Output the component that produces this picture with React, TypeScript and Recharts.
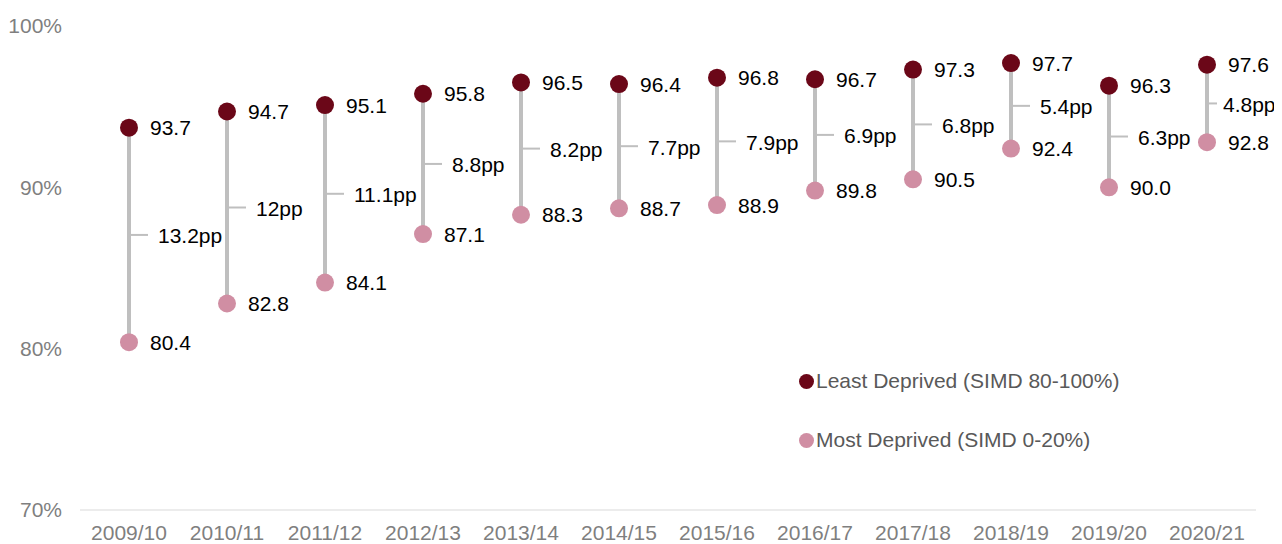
import React from 'react';
import {
  ComposedChart, Bar, Line, XAxis, YAxis, LabelList,
} from 'recharts';

const years = [
  '2009/10', '2010/11', '2011/12', '2012/13', '2013/14', '2014/15',
  '2015/16', '2016/17', '2017/18', '2018/19', '2019/20', '2020/21',
];
const leastDeprived = [93.7, 94.7, 95.1, 95.8, 96.5, 96.4, 96.8, 96.7, 97.3, 97.7, 96.3, 97.6];
const mostDeprived = [80.4, 82.8, 84.1, 87.1, 88.3, 88.7, 88.9, 89.8, 90.5, 92.4, 90.0, 92.8];
const gapLabels = ['13.2pp', '12pp', '11.1pp', '8.8pp', '8.2pp', '7.7pp', '7.9pp', '6.9pp', '6.8pp', '5.4pp', '6.3pp', '4.8pp'];
const yTicks = [70, 80, 90, 100];

const DARK = '#6b0718';
const PINK = '#d08ea3';
const GREY = '#bfbfbf';
const FONT = '"Liberation Sans", Arial, sans-serif';

const data = years.map((year, i) => ({
  year,
  least: leastDeprived[i],
  most: mostDeprived[i],
  gap: gapLabels[i],
}));

const ValueLabel = (props: any) => {
  const { x, y, value } = props;
  return (
    <text x={x + 21} y={y} dominantBaseline="central" fontSize={21} fontFamily={FONT} fill="#000">
      {Number(value).toFixed(1)}
    </text>
  );
};

const GapLabel = (props: any) => {
  const { x, y, width, height, value, index } = props;
  const cx = x + width / 2;
  const cy = y + height / 2;
  // last label sits tighter to its line so it fits at the right edge
  const last = index === data.length - 1;
  const tick = last ? 10 : 19;
  const gap = last ? 16 : 29;
  return (
    <g>
      <line x1={cx + 2} x2={cx + tick} y1={cy} y2={cy} stroke={GREY} strokeWidth={2} />
      <text x={cx + gap} y={cy + 1} dominantBaseline="central" fontSize={21} fontFamily={FONT} fill="#000">
        {value}
      </text>
    </g>
  );
};

const legendItems = [
  { label: 'Least Deprived (SIMD 80-100%)', color: DARK },
  { label: 'Most Deprived (SIMD 0-20%)', color: PINK },
];

export default function App() {
  return (
    <div style={{ position: 'relative', width: 1274, height: 536, background: '#fff' }}>
      <ComposedChart width={1274} height={536} data={data} style={{ overflow: 'visible' }}
        margin={{ top: 18, right: 26, bottom: 4, left: 0 }}>
        <XAxis
          dataKey="year"
          tickLine={false}
          tickMargin={9}
          axisLine={{ stroke: '#d9d9d9', strokeWidth: 1 }}
          tick={{ fontSize: 21, fontFamily: FONT, fill: '#7f7f7f' }}
          height={30}
          interval={0}
        />
        <YAxis
          domain={[70, 100]}
          ticks={yTicks}
          tickFormatter={(v) => `${v}%`}
          axisLine={false}
          tickLine={false}
          tickMargin={12}
          width={72}
          tick={{ fontSize: 21, fontFamily: FONT, fill: '#7f7f7f' }}
        />
        <Bar dataKey={(d: any) => [d.most, d.least]} barSize={4} fill={GREY} isAnimationActive={false}>
          <LabelList dataKey="gap" content={GapLabel} />
        </Bar>
        <Line dataKey="least" stroke="none" isAnimationActive={false}
          dot={{ r: 9, fill: DARK, stroke: 'none' }} activeDot={false}>
          <LabelList dataKey="least" content={ValueLabel} />
        </Line>
        <Line dataKey="most" stroke="none" isAnimationActive={false}
          dot={{ r: 9, fill: PINK, stroke: 'none' }} activeDot={false}>
          <LabelList dataKey="most" content={ValueLabel} />
        </Line>
      </ComposedChart>
      <div style={{ position: 'absolute', left: 791, top: 361, fontFamily: FONT, fontSize: 21, color: '#595959' }}>
        {legendItems.map((item, i) => (
          <div key={item.label} style={{ display: 'flex', alignItems: 'center', height: 24, marginBottom: i === 0 ? 35 : 0 }}>
            <span style={{ display: 'inline-block', width: 15, height: 15, borderRadius: '50%', background: item.color, marginRight: 2 }} />
            {item.label}
          </div>
        ))}
      </div>
    </div>
  );
}
